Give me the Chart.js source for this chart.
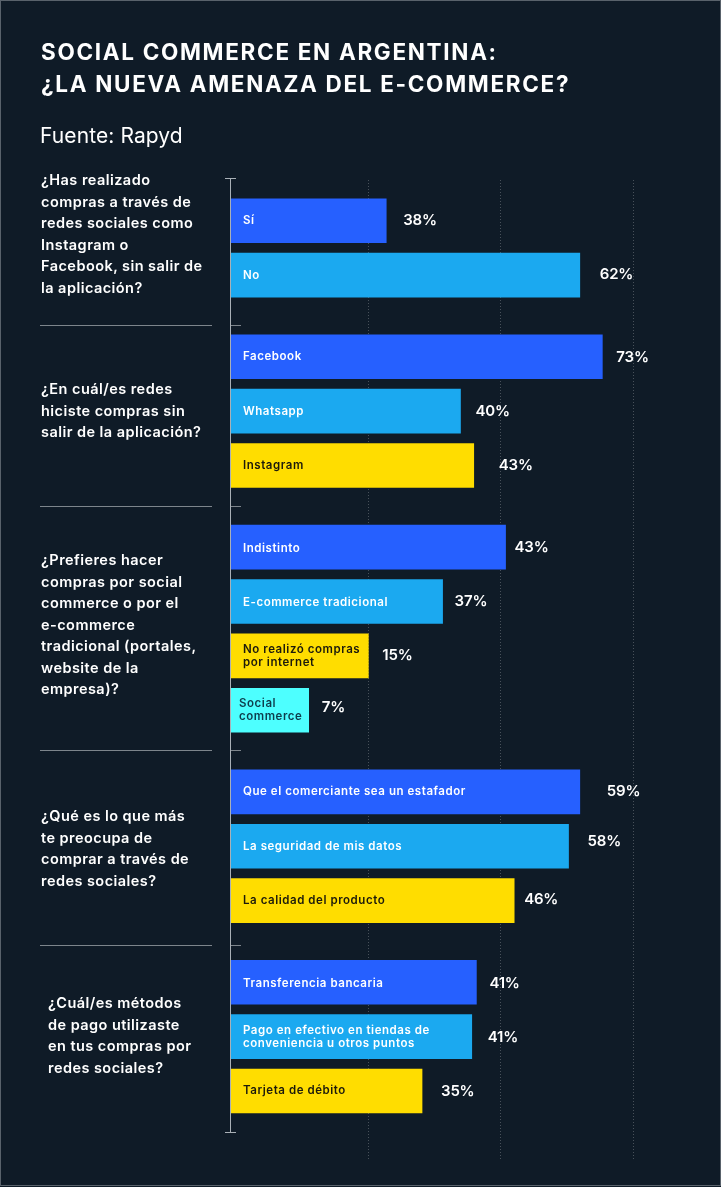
<!DOCTYPE html>
<html lang="es">
<head>
<meta charset="utf-8">
<title>Social commerce en Argentina</title>
<script src="https://cdn.jsdelivr.net/npm/chart.js@4"></script>
<style>
  html, body { margin: 0; padding: 0; background: #0f1b27; }
  #page { position: relative; width: 721px; height: 1187px; overflow: hidden; background: #0f1b27; font-family: Inter, "Open Sans", sans-serif; color: #fff; }
  #frame { position: absolute; left: 0; top: 0; width: 719px; height: 1184px; border: 1px solid #59626b; pointer-events: none; }
  canvas { position: absolute; left: 0; top: 0; }
  h1 { position: absolute; left: 41px; top: 36px; margin: 0; font-size: 22.5px; line-height: 31.5px; font-weight: 700; letter-spacing: 1.68px; white-space: nowrap; }
  #source { position: absolute; left: 40px; top: 122px; font-size: 21px; line-height: 28px; font-weight: 400; letter-spacing: 0.1px; white-space: nowrap; }
  .question { position: absolute; margin: 0; font-size: 14.5px; line-height: 21.55px; font-weight: 600; letter-spacing: 0.45px; white-space: nowrap; }
</style>
</head>
<body>
<div id="page">
  <canvas id="chart" width="721" height="1187"></canvas>
  <h1>SOCIAL COMMERCE EN ARGENTINA:<br>¿LA NUEVA AMENAZA DEL E-COMMERCE?</h1>
  <div id="source">Fuente: Rapyd</div>
  <p class="question" style="left:41px;top:169px">¿Has realizado<br>compras a través de<br>redes sociales como<br>Instagram o<br>Facebook, sin salir de<br>la aplicación?</p>
  <p class="question" style="left:41px;top:378px">¿En cuál/es redes<br>hiciste compras sin<br>salir de la aplicación?</p>
  <p class="question" style="left:41px;top:549px">¿Prefieres hacer<br>compras por social<br>commerce o por el<br>e-commerce<br>tradicional (portales,<br>website de la<br>empresa)?</p>
  <p class="question" style="left:41px;top:805px">¿Qué es lo que más<br>te preocupa de<br>comprar a través de<br>redes sociales?</p>
  <p class="question" style="left:48px;top:992px">¿Cuál/es métodos<br>de pago utilizaste<br>en tus compras por<br>redes sociales?</p>
  <div id="frame"></div>
</div>
<script>
// bar names, \n = line break inside the bar
const categories = ['Sí', 'No', 'Facebook', 'Whatsapp', 'Instagram', 'Indistinto', 'E-commerce tradicional',
  'No realizó compras\npor internet', 'Social\ncommerce', 'Que el comerciante sea un estafador',
  'La seguridad de mis datos', 'La calidad del producto', 'Transferencia bancaria',
  'Pago en efectivo en tiendas de\nconveniencia u otros puntos', 'Tarjeta de débito'];

// the percentages printed next to the bars
const printedValues = [38, 62, 73, 40, 43, 43, 37, 15, 7, 59, 58, 46, 41, 41, 35];

// bar lengths as drawn, read against the dotted grid. The original bars are not to scale with the printed numbers
const barLengths = [22.7, 51.9, 55.3, 33.9, 35.9, 40.7, 31.2, 20, 11, 51.9, 50.2, 42, 36.3, 35.6, 28.1];
const gridValues = [20, 40, 60];

const BLUE = '#2660ff', SKY = '#1ba9f0', YELLOW = '#ffdd00', CYAN = '#4dffff';
const barColors = [BLUE, SKY, BLUE, SKY, YELLOW, BLUE, SKY, YELLOW, CYAN, BLUE, SKY, YELLOW, BLUE, SKY, YELLOW];

// which row of the y axis each bar sits on, groups are separated by empty rows
const rowOfBar = [1, 3, 6, 8, 10, 13, 15, 17, 19, 22, 24, 26, 29, 31, 33];
const ROWS = 36;

// label nudges, the source places them by hand
const valueGaps = [17, 20, 14, 15, 25, 9, 12, 14, 13, 27, 19, 10, 13, 16, 19];
const valueNudgeY = [0, -1, 1, 0, 0, 0, 0, 0, -3, 0, -5, -1, 1, 1, 0];
const nameNudgeY = [0, 0, 0, 0, 0, 1.5, 1, 0, 0, 0, 0, 0, 1, 0, 0];
const nameInset = [12, 12, 12, 12, 12, 12, 12, 12, 8, 12, 12, 12, 12, 12, 12];

const rowLabels = new Array(ROWS).fill('');
const rowValues = new Array(ROWS).fill(null);
const rowColors = new Array(ROWS).fill('transparent');
rowOfBar.forEach((row, i) => {
  rowLabels[row] = categories[i];
  rowValues[row] = barLengths[i];
  rowColors[row] = barColors[i];
});

const X_MIN = -0.72;
const AXIS_LEFT = 231;

// separator lines and axis
const axisDecor = {
  id: 'axisDecor',
  afterDraw(chart) {
    const ctx = chart.ctx;
    ctx.save();
    ctx.strokeStyle = '#a9b0b6';
    ctx.lineWidth = 1;
    ctx.beginPath();
    ctx.moveTo(AXIS_LEFT - 0.5, 178);
    ctx.lineTo(AXIS_LEFT - 0.5, 1132);
    ctx.moveTo(225, 178.5); ctx.lineTo(236, 178.5);
    ctx.moveTo(225, 1132.5); ctx.lineTo(236, 1132.5);
    ctx.stroke();
    ctx.strokeStyle = '#7d858c';
    ctx.beginPath();
    [325, 506, 750, 945].forEach(y => {
      ctx.moveTo(40, y + 0.5); ctx.lineTo(212, y + 0.5);
      ctx.moveTo(231, y + 0.5); ctx.lineTo(241, y + 0.5);
    });
    ctx.stroke();
    ctx.restore();
  }
};

// names inside the bars and percentages after them
const barText = {
  id: 'barText',
  afterDatasetsDraw(chart) {
    const ctx = chart.ctx;
    const bars = chart.getDatasetMeta(0).data;
    ctx.save();
    ctx.textBaseline = 'middle';
    rowOfBar.forEach((row, i) => {
      const bar = bars[row];
      const color = barColors[i];
      ctx.fillStyle = color === YELLOW ? '#1c1a0c' : color === CYAN ? '#0e3d4c' : '#ffffff';
      ctx.font = '600 11.5px Inter, sans-serif';
      ctx.letterSpacing = '0.55px';
      ctx.textAlign = 'left';
      const lines = categories[i].split('\n');
      lines.forEach((line, n) => {
        ctx.fillText(line, AXIS_LEFT + nameInset[i], bar.y + nameNudgeY[i] + (n - (lines.length - 1) / 2) * 13);
      });
      ctx.fillStyle = '#ffffff';
      ctx.font = '600 15px Inter, sans-serif';
      ctx.letterSpacing = '-0.2px';
      ctx.fillText(printedValues[i] + '%', bar.x + valueGaps[i], bar.y + valueNudgeY[i]);
    });
    ctx.restore();
  }
};

new Chart(document.getElementById('chart').getContext('2d'), {
  type: 'bar',
  plugins: [axisDecor, barText],
  data: {
    labels: rowLabels,
    datasets: [{
      data: rowValues,
      backgroundColor: rowColors,
      borderWidth: 0,
      base: X_MIN,
      barThickness: 44
    }]
  },
  options: {
    indexAxis: 'y',
    responsive: false,
    animation: false,
    devicePixelRatio: 1,
    layout: { padding: { left: AXIS_LEFT, right: 0, top: 180, bottom: 28 } },
    plugins: { legend: { display: false }, tooltip: { enabled: false }, title: { display: false } },
    scales: {
      x: {
        type: 'linear',
        min: X_MIN,
        max: 73.2,
        afterBuildTicks(axis) { axis.ticks = gridValues.map(value => ({ value })); },
        ticks: { display: false },
        border: { display: false, dash: [1, 2] },
        grid: { color: 'rgba(255,255,255,0.24)', lineWidth: 1, drawTicks: false },
        afterFit(axis) { axis.height = 0; }
      },
      y: { display: false }
    }
  }
});
</script>
</body>
</html>
